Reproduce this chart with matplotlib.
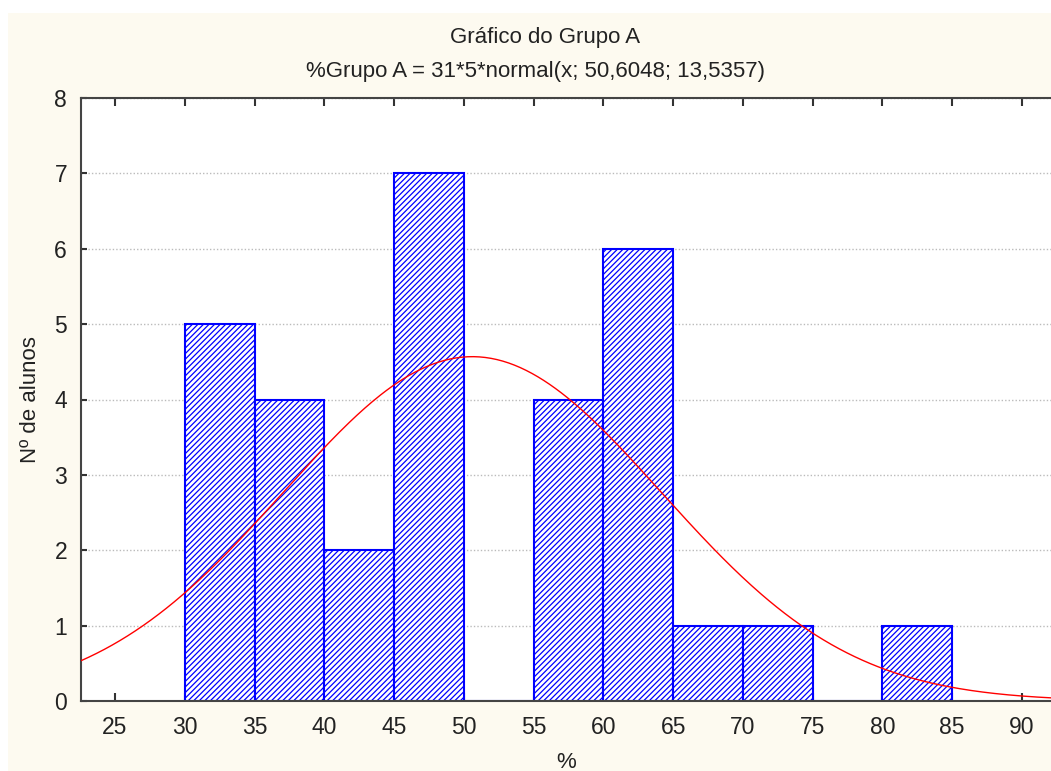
import numpy as np
import matplotlib
matplotlib.use("Agg")
import matplotlib.pyplot as plt
from matplotlib.patches import Rectangle

plt.rcParams['font.family'] = ['Liberation Sans', 'DejaVu Sans']
plt.rcParams['hatch.linewidth'] = 0.9
plt.rcParams['hatch.color'] = '#3333FF'

bin_edges = [30, 35, 40, 45, 50, 55, 60, 65, 70, 75, 80, 85]
counts = [5, 4, 2, 7, 0, 4, 6, 1, 1, 0, 1]
n_total = 31
bin_width = 5
mu = 50.6048
sigma = 13.5357
xticks = [25, 30, 35, 40, 45, 50, 55, 60, 65, 70, 75, 80, 85, 90]
yticks = [0, 1, 2, 3, 4, 5, 6, 7, 8]

W, H = 1051, 771
fig = plt.figure(figsize=(W / 100, H / 100), dpi=100, facecolor='white')
bg = Rectangle((8 / W, 0), 1 - 8 / W, (H - 13) / H, transform=fig.transFigure,
               facecolor='#FDFAF0', edgecolor='none', zorder=-10)
fig.patches.append(bg)

left_px, right_px, top_px, bot_px = 81, 1051, 98, 701
ax = fig.add_axes([left_px / W, (H - bot_px) / H, (right_px - left_px) / W, (bot_px - top_px) / H])
ax.set_facecolor('white')

px_per_unit = (1022 - 115) / 65
xmin = 25 - (115 - left_px) / px_per_unit
xmax = 90 + (right_px - 1022) / px_per_unit
ax.set_xlim(xmin, xmax)
ax.set_ylim(0, 8)

ax.grid(axis='y', linestyle=(0, (1, 1.5)), color='#BBBBBB', linewidth=1.0, zorder=0)
ax.set_axisbelow(True)

lefts = bin_edges[:-1]
ax.bar(lefts, counts, width=bin_width, align='edge', facecolor='white',
       edgecolor='#0000FF', linewidth=1.5, hatch='//////', zorder=2)

xs = np.linspace(xmin, xmax, 500)
ys = n_total * bin_width * np.exp(-0.5 * ((xs - mu) / sigma) ** 2) / (sigma * np.sqrt(2 * np.pi))
ax.plot(xs, ys, color='#FF0000', linewidth=1.0, zorder=3)

ax.set_xticks(xticks)
ax.set_yticks(yticks)
ax.tick_params(axis='both', direction='in', labelsize=16.5, colors='#333333', labelcolor='#222222')
ax.tick_params(axis='x', top=True, length=6, width=1.5, pad=11)
ax.tick_params(axis='y', length=4, width=1.5, pad=10)
for s in ['left', 'bottom', 'top']:
    ax.spines[s].set_color('#444444')
    ax.spines[s].set_linewidth(1.5)
ax.spines['right'].set_visible(False)

fig.text(566 / W, 1 - 762 / H, '%', ha='center', va='center', fontsize=16, color='#222222')
fig.text(30 / W, 1 - 400 / H, 'Nº de alunos', ha='center', va='center', rotation=90,
         fontsize=16, color='#222222')

fig.text(545 / W, 1 - 37 / H, 'Gráfico do Grupo A', ha='center', va='center', fontsize=16, color='#222222')
fig.text(536 / W, 1 - 72 / H, '%Grupo A = 31*5*normal(x; 50,6048; 13,5357)', ha='center', va='center',
         fontsize=16, color='#222222')

fig.savefig('out.png', dpi=100, facecolor=fig.get_facecolor())
